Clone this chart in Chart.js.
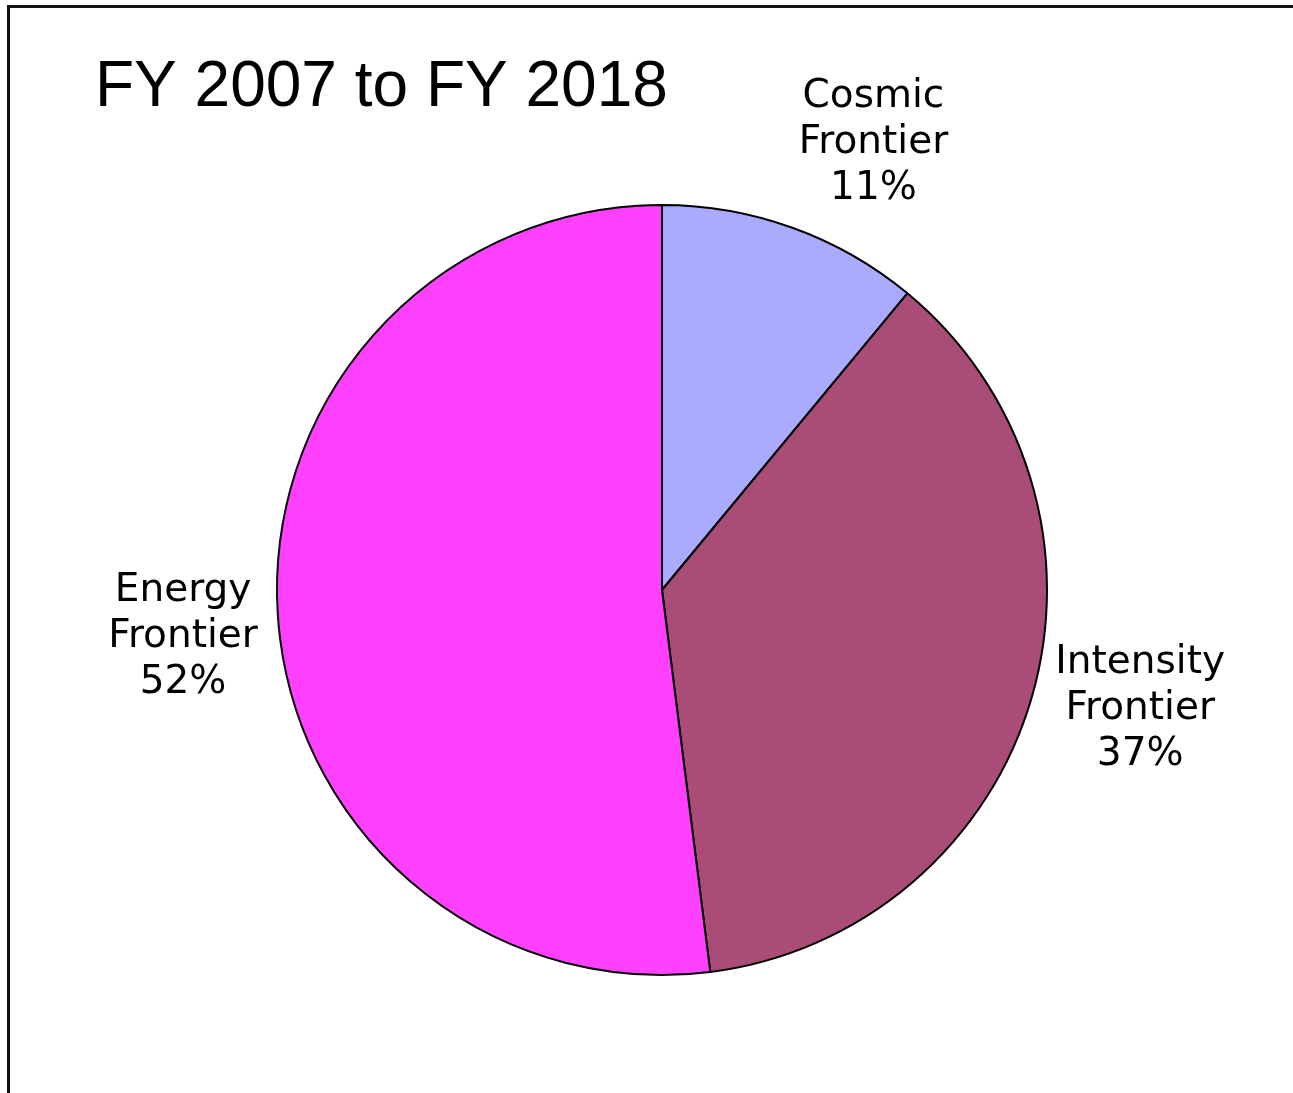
<!DOCTYPE html>
<html>
<head>
<meta charset="utf-8">
<title>FY 2007 to FY 2018</title>
<script src="https://cdn.jsdelivr.net/npm/chart.js@4/dist/chart.umd.min.js"></script>
<style>
    html, body { margin: 0; padding: 0; background: #fff; }
    #wrap { position: relative; width: 1293px; height: 1093px; overflow: hidden; }
    #frame {
        position: absolute; left: 7px; top: 5px; right: -10px; bottom: -10px;
        border-left: 3px solid #111; border-top: 3px solid #111;
    }
    #pie { position: absolute; left: 0; top: 0; }
</style>
</head>
<body>
<div id="wrap">
    <div id="frame"></div>
    <canvas id="pie" width="1293" height="1093"></canvas>
</div>
<script>
// Funding share by frontier
const titleText = 'FY 2007 to FY 2018';
const categories = ['Cosmic Frontier', 'Intensity Frontier', 'Energy Frontier'];
const shares = [11, 37, 52];
const sliceColors = ['#aaaaff', '#aa4c78', '#ff40ff'];

// Label placement: angle nudge (deg) from slice middle, distance as fraction of radius
const labelNudge = [
    { deg: 5.5, dist: 1.285 },
    { deg: -2.2, dist: 1.28 },
    { deg: -2.0, dist: 1.25 },
];

const labelFont = '39px "DejaVu Sans", Verdana, sans-serif';
const lineHeight = 46;

const sliceLabels = {
    id: 'sliceLabels',
    afterDraw(chart) {
        const ctx = chart.ctx;
        ctx.save();
        ctx.fillStyle = '#000';

        // Title in the top-left corner
        ctx.font = '64px "Liberation Sans", Arial, sans-serif';
        ctx.textAlign = 'left';
        ctx.textBaseline = 'alphabetic';
        ctx.fillText(titleText, 95, 106);

        // Category name over two lines, then the percentage
        ctx.font = labelFont;
        ctx.textAlign = 'center';
        ctx.textBaseline = 'middle';
        chart.getDatasetMeta(0).data.forEach((arc, i) => {
            const { x, y, startAngle, endAngle, outerRadius } = arc.getProps(['x', 'y', 'startAngle', 'endAngle', 'outerRadius'], true);
            const mid = (startAngle + endAngle) / 2 + labelNudge[i].deg * Math.PI / 180;
            const r = outerRadius * labelNudge[i].dist;
            const cx = x + Math.cos(mid) * r;
            const cy = y + Math.sin(mid) * r;
            const words = categories[i].split(' ');
            const lines = [words[0], words.slice(1).join(' '), shares[i] + '%'];
            lines.forEach((line, k) => {
                ctx.fillText(line, cx, cy + (k - 1) * lineHeight);
            });
        });
        ctx.restore();
    }
};

new Chart(document.getElementById('pie'), {
    type: 'pie',
    data: {
        labels: categories,
        datasets: [{
            data: shares,
            backgroundColor: sliceColors,
            borderColor: '#000',
            borderWidth: 2,
        }]
    },
    options: {
        responsive: false,
        animation: false,
        layout: {
            padding: { left: 276, right: 245, top: 204, bottom: 117 }
        },
        plugins: {
            legend: { display: false },
            tooltip: { enabled: false },
            title: { display: false }
        }
    },
    plugins: [sliceLabels]
});
</script>
</body>
</html>
